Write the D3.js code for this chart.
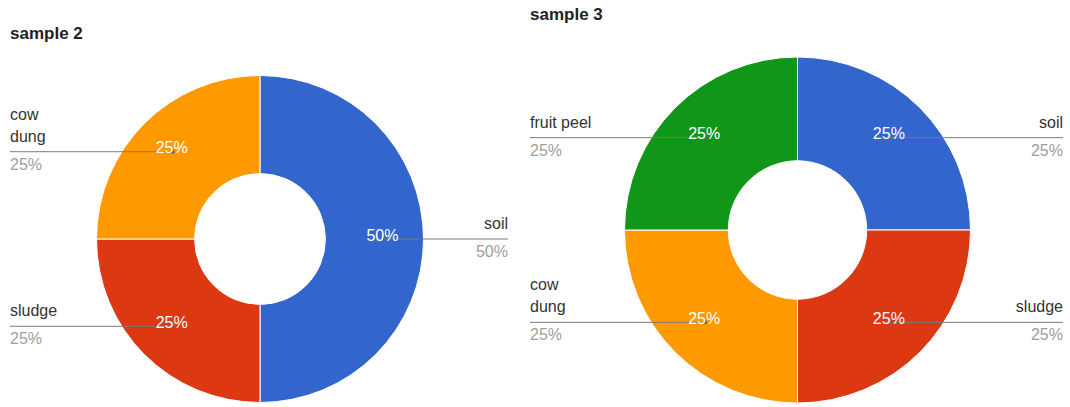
<!DOCTYPE html>
<html>
<head>
<meta charset="utf-8">
<script src="https://cdn.jsdelivr.net/npm/d3@7"></script>
<style>
  body { margin: 0; background: #fff; }
  svg { font-family: "Liberation Sans", Arial, sans-serif; display: block; }
</style>
</head>
<body>
<svg id="chart" width="1070" height="407"></svg>
<script>
// sample 2
var sample2Labels = ["soil", "sludge", "cow dung"];
var sample2Values = [50, 25, 25];
var sample2Colors = ["#3366cc", "#dc3912", "#ff9900"];

// sample 3
var sample3Labels = ["soil", "sludge", "cow dung", "fruit peel"];
var sample3Values = [25, 25, 25, 25];
var sample3Colors = ["#3366cc", "#dc3912", "#ff9900", "#109618"];

var svg = d3.select("#chart");

function donut(opts) {
  var g = svg.append("g");
  var data = opts.labels.map(function(l, i) {
    return { label: l, value: opts.values[i], color: opts.colors[i] };
  });
  var total = d3.sum(data, function(d) { return d.value; });

  g.append("text")
    .attr("x", opts.titleX)
    .attr("y", opts.titleY)
    .attr("font-size", 17)
    .attr("font-weight", "bold")
    .attr("fill", "#222")
    .text(opts.title);

  var pie = d3.pie().sort(null).value(function(d) { return d.value; });
  var arc = d3.arc().innerRadius(opts.r * 0.4).outerRadius(opts.r);
  var arcs = pie(data);

  var chart = g.append("g")
    .attr("transform", "translate(" + opts.cx + "," + opts.cy + ")");

  chart.selectAll(".slice")
    .data(arcs)
    .enter().append("path")
    .attr("class", "slice")
    .attr("d", arc)
    .attr("fill", function(d) { return d.data.color; })
    .attr("stroke", "#fff")
    .attr("stroke-width", 1);

  // point inside each slice where the label line ends
  var inner = d3.arc().innerRadius(opts.r * 0.755).outerRadius(opts.r * 0.755);
  arcs.forEach(function(d) {
    var p = inner.centroid(d);
    d.px = opts.cx + p[0];
    d.py = opts.cy + p[1];
    d.right = p[0] > 1;
  });

  // outside labels with leader lines
  var lab = g.selectAll(".lab")
    .data(arcs)
    .enter().append("g")
    .attr("class", "lab");

  lab.append("line")
    .attr("x1", function(d) { return d.right ? opts.rightX : opts.leftX; })
    .attr("x2", function(d) { return d.px; })
    .attr("y1", function(d) { return d.py; })
    .attr("y2", function(d) { return d.py; })
    .attr("stroke", "#7a7a7a")
    .attr("stroke-width", 1);

  lab.append("circle")
    .attr("cx", function(d) { return d.px; })
    .attr("cy", function(d) { return d.py; })
    .attr("r", 2)
    .attr("fill", "#666");

  lab.each(function(d) {
    var words = opts.wrap[d.data.label] || [d.data.label];
    var x = d.right ? opts.rightX : opts.leftX;
    var anchor = d.right ? "end" : "start";
    var sel = d3.select(this);
    words.forEach(function(w, i) {
      sel.append("text")
        .attr("x", x)
        .attr("y", d.py - 10 - (words.length - 1 - i) * 22)
        .attr("text-anchor", anchor)
        .attr("font-size", 16)
        .attr("fill", "#333")
        .text(w);
    });
    sel.append("text")
      .attr("x", x)
      .attr("y", d.py + 18)
      .attr("text-anchor", anchor)
      .attr("font-size", 16)
      .attr("fill", "#9e9e9e")
      .text(Math.round(d.data.value / total * 100) + "%");
  });

  // percentages inside slices
  g.selectAll(".pct")
    .data(arcs)
    .enter().append("text")
    .attr("class", "pct")
    .attr("x", function(d) { return d.px - 1; })
    .attr("y", function(d) { return d.py + 1.5; })
    .attr("text-anchor", "middle")
    .attr("font-size", 16)
    .attr("fill", "#fff")
    .text(function(d) { return Math.round(d.data.value / total * 100) + "%"; });
}

donut({
  title: "sample 2", titleX: 10, titleY: 39,
  labels: sample2Labels, values: sample2Values, colors: sample2Colors,
  cx: 260, cy: 239, r: 163.5,
  leftX: 10, rightX: 508,
  wrap: { "cow dung": ["cow", "dung"] }
});

donut({
  title: "sample 3", titleX: 530, titleY: 20,
  labels: sample3Labels, values: sample3Values, colors: sample3Colors,
  cx: 797.5, cy: 230, r: 173,
  leftX: 530, rightX: 1063,
  wrap: { "cow dung": ["cow", "dung"] }
});
</script>
</body>
</html>
